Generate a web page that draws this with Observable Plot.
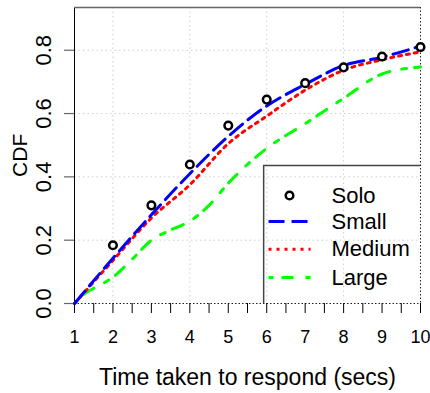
<!DOCTYPE html>
<html>
<head>
<meta charset="utf-8">
<script src="https://cdn.jsdelivr.net/npm/d3@7"></script>
<script src="https://cdn.jsdelivr.net/npm/@observablehq/plot@0.6"></script>
<style>
  html, body { margin: 0; padding: 0; background: white; }
</style>
</head>
<body>
<div id="chart"></div>
<script>
// ---- data ----
const times = [1, 2, 3, 4, 5, 6, 7, 8, 9, 10];
const solo   = [null, 0.184, 0.31, 0.439, 0.562, 0.644, 0.696, 0.746, 0.78, 0.81];
const small  = [0, 0.143, 0.28, 0.41, 0.528, 0.624, 0.692, 0.752, 0.778, 0.813];
const medium = [0, 0.136, 0.27, 0.375, 0.505, 0.592, 0.674, 0.737, 0.77, 0.795];
const largeTimes = [1, 1.25, 1.5, 2, 2.5, 3, 3.5, 4, 4.5, 5, 6, 7, 8, 9, 10];
const large      = [0, 0.03, 0.048, 0.083, 0.14, 0.2, 0.232, 0.26, 0.31, 0.38, 0.49, 0.568, 0.648, 0.725, 0.747];
const xTicks = [1, 1.5, 2, 2.5, 3, 3.5, 4, 4.5, 5, 5.5, 6, 6.5, 7, 7.5, 8, 8.5, 9, 9.5, 10];
const yTicks = [0, 0.2, 0.4, 0.6, 0.8];
const seriesNames = ["Solo", "Small", "Medium", "Large"];
const xTitle = "Time taken to respond (secs)";
const yTitle = "CDF";

// ---- tables ----
const soloData = times.map((t, i) => ({t, v: solo[i]})).filter(d => d.v != null);
const smallData = times.map((t, i) => ({t, v: small[i]}));
const mediumData = times.map((t, i) => ({t, v: medium[i]}));
const largeData = largeTimes.map((t, i) => ({t, v: large[i]}));

const styles = {
  Small:  {stroke: "#0000ff", strokeDasharray: "16,7"},
  Medium: {stroke: "#ff0000", strokeDasharray: "3,5"},
  Large:  {stroke: "#00ff00", strokeDasharray: "5,8,12,12"}
};

// legend layout (in data units)
const legX0 = 5.92, legTop = 0.436;
const legRows = [0.341, 0.259, 0.171, 0.082];
const legendItems = seriesNames.map((name, i) => ({name, y: legRows[i]}));

const chart = Plot.plot({
  width: 430,
  height: 393,
  marginLeft: 74,
  marginRight: 10,
  marginTop: 7,
  marginBottom: 90,
  x: {type: "linear", domain: [1, 10]},
  y: {type: "linear", domain: [0, 0.935]},
  style: {fontFamily: "'Liberation Sans', Arial, sans-serif", background: "white", color: "black"},
  marks: [
    // grid
    Plot.ruleX([2, 4, 6, 8], {stroke: "#cfcfcf", strokeDasharray: "1.5,3"}),
    Plot.ruleY([0.2, 0.4, 0.6, 0.8], {stroke: "#cfcfcf", strokeDasharray: "1.5,3"}),
    Plot.ruleX([10], {stroke: "#222", strokeDasharray: "1.5,2"}),
    Plot.ruleY([0], {stroke: "#222", strokeDasharray: "1.5,2"}),
    // frame pieces
    Plot.ruleX([1], {stroke: "black"}),
    Plot.ruleY([0.935], {stroke: "#666", strokeWidth: 1.5}),
    // axes
    Plot.axisX({ticks: xTicks, tickSize: 10, tickPadding: 17, fontSize: 18, label: null,
      tickFormat: d => Number.isInteger(d) ? String(d) : "", stroke: "black"}),
    Plot.axisY({ticks: yTicks, tickSize: 10, label: null, tickFormat: () => "", stroke: "#666", strokeWidth: 1.2}),
    Plot.text(yTicks, {x: 1, y: d => d, text: d => d3.format(".1f")(d), rotate: -90,
      dx: -31, fontSize: 22, textAnchor: "middle", fill: "black"}),
    Plot.text([yTitle], {x: 1, y: 0.468, text: d => d, rotate: -90, dx: -54, fontSize: 21, textAnchor: "middle"}),
    Plot.text([xTitle], {x: 5.5, y: 0, text: d => d, dy: 74, fontSize: 23, textAnchor: "middle"}),
    // series
    Plot.line(largeData, {x: "t", y: "v", ...styles.Large, strokeWidth: 3, curve: "monotone-x"}),
    Plot.line(mediumData, {x: "t", y: "v", ...styles.Medium, strokeWidth: 3, curve: "monotone-x"}),
    Plot.line(smallData, {x: "t", y: "v", ...styles.Small, strokeWidth: 3, curve: "monotone-x"}),
    Plot.dot(soloData, {x: "t", y: "v", r: 3.8, stroke: "black", strokeWidth: 2.5, fill: "white"}),
    // legend box
    Plot.ruleX([legX0], {y1: 0, y2: legTop, stroke: "#444", strokeWidth: 1.5}),
    Plot.ruleY([legTop], {x1: legX0, x2: 10, stroke: "#444", strokeWidth: 1.5}),
    Plot.dot(legendItems.filter(d => d.name === "Solo"), {x: 6.593, y: "y", r: 3.8, stroke: "black", strokeWidth: 2.5, fill: "white"}),
    ...legendItems.filter(d => d.name !== "Solo").map(d =>
      Plot.link([d], {x1: 6.047, x2: 7.14, y1: "y", y2: "y", ...styles[d.name], strokeWidth: 3})
    ),
    Plot.text(legendItems, {x: 7.686, y: "y", text: "name", textAnchor: "start", fontSize: 22, fill: "black"})
  ]
});
document.getElementById("chart").appendChild(chart);
</script>
</body>
</html>
